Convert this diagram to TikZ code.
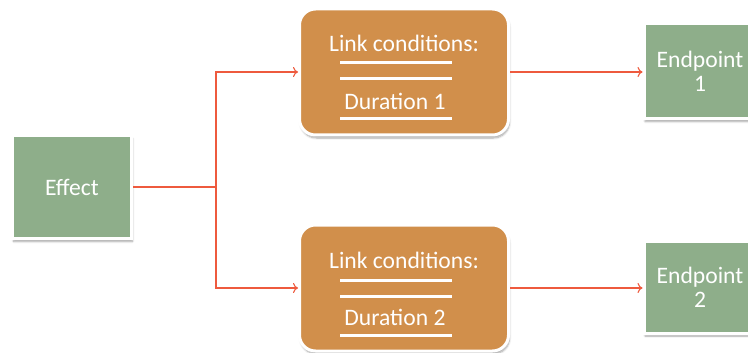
\documentclass[tikz,border=0pt]{standalone}
\usepackage{fontspec}
\setmainfont{Carlito}
\usetikzlibrary{arrows.meta,shadows.blur}
\definecolor{boxgreen}{HTML}{8EAE8A}
\definecolor{boxorange}{HTML}{D18F4B}
\definecolor{linkred}{HTML}{EE5A3E}
\tikzset{
  x=1pt, y=-1pt,
  every node/.style={font=\fontsize{23.6}{27}\selectfont, text=white},
  softshadow/.style={blur shadow={shadow xshift=1pt, shadow yshift=-3pt, shadow opacity=35, shadow blur steps=6}},
  greenbox/.style={rectangle, fill=boxgreen, draw=white, line width=3pt, softshadow,
    align=center, inner sep=0pt},
  condbox/.style={rectangle, rounded corners=16pt, fill=boxorange, draw=white, line width=3pt,
    softshadow, minimum width=209pt, minimum height=126pt, inner sep=0pt},
  rule/.style={draw=white, line width=3pt},
  flow/.style={draw=linkred, line width=1.1pt, -{To[length=5pt,width=10pt]}},
  plain/.style={draw=linkred, line width=1.1pt},
}
\begin{document}
\begin{tikzpicture}
\useasboundingbox (0,0) rectangle (748,353);

% source and targets
\node[greenbox, minimum width=119pt, minimum height=103pt] (effect) at (72,187) {Effect};
\node[greenbox, minimum width=112pt, minimum height=95pt] (end1) at (700,71) {Endpoint\\[-3pt]1};
\node[greenbox, minimum width=112pt, minimum height=92pt] (end2) at (700,287) {Endpoint\\[-3pt]2};

% condition boxes
\node[condbox] (cond1) at (404,72) {};
\node[condbox] (cond2) at (404,288) {};

% contents of the first condition box
\node (hdr1) at (404,43) {Link conditions:};
\coordinate (r1a) at (340,63);  \coordinate (r1b) at (452,63);
\coordinate (r2a) at (340,79);  \coordinate (r2b) at (452,79);
\node (dur1) at (395,101) {Duration 1};
\coordinate (r3a) at (340,119); \coordinate (r3b) at (452,119);
\draw[rule] (r1a) -- (r1b);
\draw[rule] (r2a) -- (r2b);
\draw[rule] (r3a) -- (r3b);

% contents of the second condition box
\node (hdr2) at (404,260) {Link conditions:};
\coordinate (s1a) at (340,280); \coordinate (s1b) at (452,280);
\coordinate (s2a) at (340,296); \coordinate (s2b) at (452,296);
\node (dur2) at (395,317) {Duration 2};
\coordinate (s3a) at (340,335); \coordinate (s3b) at (452,335);
\draw[rule] (s1a) -- (s1b);
\draw[rule] (s2a) -- (s2b);
\draw[rule] (s3a) -- (s3b);

% connectors
\coordinate (split) at (216,187);
\draw[plain] (effect.east) -- (split);
\draw[flow] (split) |- (cond1.west);
\draw[flow] (split) |- (cond2.west);
\draw[flow] (cond1.east) -- (cond1.east -| end1.west);
\draw[flow] (cond2.east) -- (cond2.east -| end2.west);
\end{tikzpicture}
\end{document}
